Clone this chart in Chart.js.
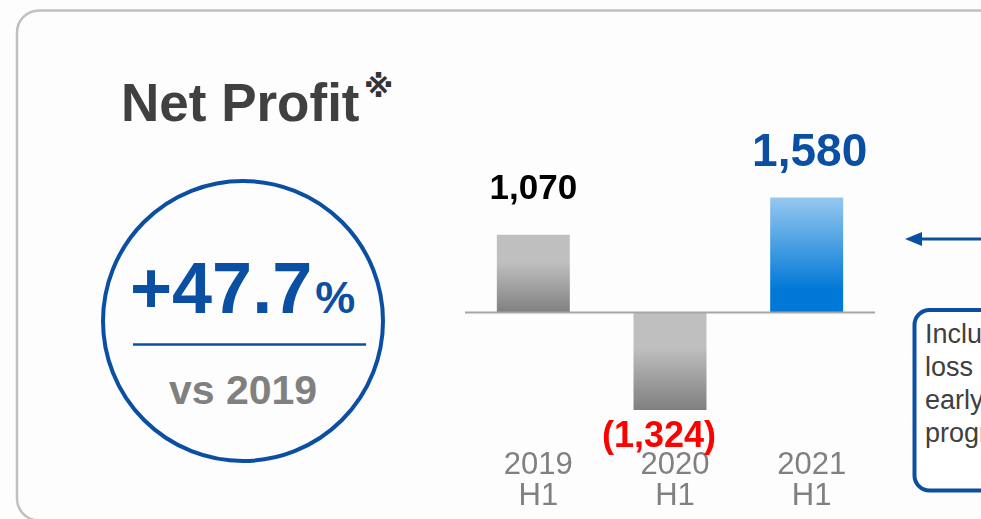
<!DOCTYPE html>
<html>
<head>
<meta charset="utf-8">
<script src="https://cdn.jsdelivr.net/npm/chart.js@4/dist/chart.umd.min.js"></script>
<style>
  body { margin: 0; width: 981px; height: 519px; overflow: hidden; background: #fdfdfd; }
  #deco, #chart { position: absolute; left: 0; top: 0; }
  #chart { z-index: 2; }
  svg text { font-family: "Liberation Sans", Arial, "DejaVu Sans", sans-serif; }
</style>
</head>
<body>
<svg id="deco" width="981" height="519">
  <rect x="17" y="10.5" width="1000" height="510" rx="22" fill="#fdfdfd" stroke="#c0c0c0" stroke-width="2.5"/>
  <text x="121" y="121" font-size="53" font-weight="bold" fill="#404040">Net Profit</text>
  <text x="364" y="97" font-size="30" font-weight="bold" fill="#333333" style="font-family:'DejaVu Sans', sans-serif">※</text>

  <circle cx="243" cy="321" r="140" fill="none" stroke="#0b4fa3" stroke-width="4"/>
  <text x="130" y="313" font-size="72" font-weight="bold" fill="#0b4fa3">+47.7<tspan font-size="45" dx="3">%</tspan></text>
  <line x1="133" y1="344.5" x2="366" y2="344.5" stroke="#0b4fa3" stroke-width="2.5"/>
  <text x="243" y="404" font-size="41" font-weight="bold" fill="#808080" text-anchor="middle">vs 2019</text>

  <line x1="918" y1="239" x2="990" y2="239" stroke="#0b4fa3" stroke-width="3"/>
  <polygon points="905,239 922,232 922,246" fill="#0b4fa3"/>

  <rect x="914.5" y="310" width="200" height="180.5" rx="15" fill="#ffffff" stroke="#0b4fa3" stroke-width="4"/>
  <text font-size="27" fill="#404040">
    <tspan x="925" y="343">Including</tspan>
    <tspan x="925" y="376">loss</tspan>
    <tspan x="925" y="409">early</tspan>
    <tspan x="925" y="442">program</tspan>
  </text>
</svg>
<canvas id="chart" width="981" height="519"></canvas>
<script>
// data (first half of each year)
const categories = [["2019", "H1"], ["2020", "H1"], ["2021", "H1"]];
const netProfit = [1070, -1324, 1580];

// label looks per bar
const labelColors = ["#000000", "#ff0000", "#0b4fa3"];
const labelSizes = [35, 36, 46];
const labelGaps = [36, 37, 31];
const labelShifts = [0, -11, 3];

const FONT = "'Liberation Sans', Arial, sans-serif";

function fmt(v) {
  const s = Math.abs(v).toLocaleString("en-US");
  return v < 0 ? "(" + s + ")" : s;
}

function barFill(ctx) {
  const chart = ctx.chart;
  if (!chart.chartArea) return "#bfbfbf";
  const y = chart.scales.y;
  const v = netProfit[ctx.dataIndex];
  const p0 = y.getPixelForValue(0);
  const p1 = y.getPixelForValue(v);
  const g = chart.ctx.createLinearGradient(0, Math.min(p0, p1), 0, Math.max(p0, p1));
  if (ctx.dataIndex === 2) {
    g.addColorStop(0, "#96c8ef");
    g.addColorStop(0.8, "#0078d7");
    g.addColorStop(1, "#0078d7");
  } else {
    g.addColorStop(0, "#bfbfbf");
    g.addColorStop(0.35, "#bfbfbf");
    g.addColorStop(1, "#7f7f7f");
  }
  return g;
}

const zeroLine = {
  id: "zeroLine",
  afterDatasetsDraw(chart) {
    const { ctx, chartArea, scales } = chart;
    const y = Math.round(scales.y.getPixelForValue(0)) - 0.5;
    ctx.save();
    ctx.strokeStyle = "#a6a6a6";
    ctx.lineWidth = 2;
    ctx.beginPath();
    ctx.moveTo(chartArea.left, y);
    ctx.lineTo(chartArea.right, y);
    ctx.stroke();
    ctx.restore();
  },
};

const valueLabels = {
  id: "valueLabels",
  afterDatasetsDraw(chart) {
    const ctx = chart.ctx;
    const meta = chart.getDatasetMeta(0);
    ctx.save();
    ctx.textAlign = "center";
    ctx.textBaseline = "alphabetic";
    meta.data.forEach((bar, i) => {
      const v = netProfit[i];
      ctx.font = "bold " + labelSizes[i] + "px " + FONT;
      ctx.fillStyle = labelColors[i];
      const y = v >= 0 ? bar.y - labelGaps[i] : bar.y + labelGaps[i];
      ctx.fillText(fmt(v), bar.x + labelShifts[i], y);
    });
    ctx.restore();
  },
};

new Chart(document.getElementById("chart"), {
  type: "bar",
  data: {
    labels: categories,
    datasets: [
      {
        label: "Net Profit",
        data: netProfit,
        backgroundColor: barFill,
        borderWidth: 0,
        categoryPercentage: 1,
        barPercentage: 0.534,
      },
    ],
  },
  options: {
    responsive: false,
    animation: false,
    devicePixelRatio: 1,
    layout: { padding: { left: 465, right: 106, top: 152, bottom: 4 } },
    plugins: {
      legend: { display: false },
      tooltip: { enabled: false },
    },
    scales: {
      x: {
        grid: { display: false, drawTicks: false },
        border: { display: false },
        ticks: {
          color: "#808080",
          font: { family: FONT, size: 31, lineHeight: 0.97 },
          padding: 4,
          labelOffset: 5,
          maxRotation: 0,
          autoSkip: false,
        },
      },
      y: { display: false, min: -1827, max: 2200 },
    },
  },
  plugins: [zeroLine, valueLabels],
});
</script>
</body>
</html>
